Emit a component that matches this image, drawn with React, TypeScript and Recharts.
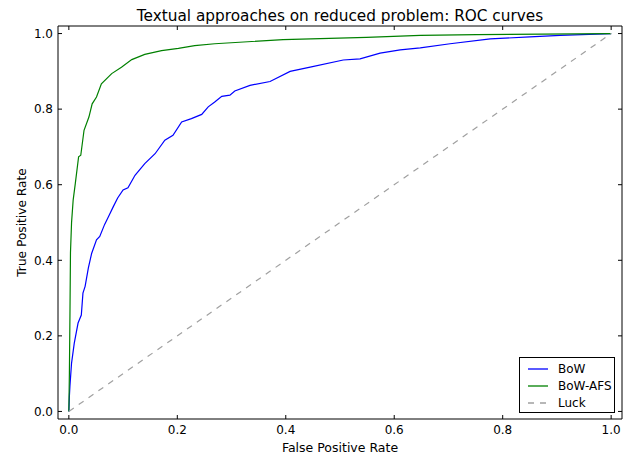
import React from 'react'
import { LineChart, Line, XAxis, YAxis, Legend } from 'recharts'

// ROC points (false positive rate / true positive rate)
const fprBow = [
  0, 0.001, 0.002, 0.005, 0.01, 0.017, 0.023, 0.026, 0.03, 0.036, 0.042, 0.051, 0.057,
  0.066, 0.073, 0.082, 0.09, 0.1, 0.109, 0.122, 0.14, 0.159, 0.177, 0.192, 0.208, 0.226,
  0.245, 0.257, 0.269, 0.282, 0.297, 0.306, 0.334, 0.371, 0.408, 0.445, 0.506, 0.537,
  0.574, 0.611, 0.648, 0.703, 0.777, 0.85, 0.906, 1.0,
]
const tprBow = [
  0, 0.04, 0.067, 0.128, 0.181, 0.234, 0.255, 0.313, 0.331, 0.38, 0.418, 0.454, 0.463,
  0.495, 0.515, 0.542, 0.565, 0.586, 0.592, 0.625, 0.656, 0.682, 0.718, 0.731, 0.766, 0.775,
  0.786, 0.806, 0.819, 0.834, 0.837, 0.848, 0.863, 0.873, 0.9, 0.911, 0.93, 0.933,
  0.948, 0.957, 0.962, 0.973, 0.986, 0.991, 0.995, 1.0,
]

const fprAfs = [
  0, 0.001, 0.002, 0.003, 0.005, 0.008, 0.012, 0.018, 0.022, 0.028, 0.037, 0.043, 0.051,
  0.06, 0.079, 0.097, 0.116, 0.14, 0.171, 0.202, 0.232, 0.269, 0.395, 0.549, 0.648, 0.752, 1.0,
]
const tprAfs = [
  0, 0.1, 0.25, 0.42, 0.5, 0.56, 0.604, 0.674, 0.678, 0.744, 0.779, 0.814, 0.832,
  0.867, 0.894, 0.911, 0.931, 0.945, 0.955, 0.961, 0.968, 0.973, 0.984, 0.99, 0.995, 0.997, 1.0,
]

const fprLuck = [0, 1]
const tprLuck = [0, 1]

const axisTicks = [0, 0.2, 0.4, 0.6, 0.8, 1.0]

const toPoints = (xs: number[], ys: number[]) => xs.map((x, i) => ({ x, y: ys[i] }))

const bowData = toPoints(fprBow, tprBow)
const afsData = toPoints(fprAfs, tprAfs)
const luckData = toPoints(fprLuck, tprLuck)

const FONT = '"DejaVu Sans", sans-serif'
const TICK_LEN = 4
const GAP_X = 6
const GAP_Y = 5
const DOMAIN: [number, number] = [-0.02, 1.02]
const fmt = (v: number) => v.toFixed(1)

// matplotlib-style ticks: pointing into the plot, labels outside
const BottomTick = ({ x, y, payload }: any) => (
  <g>
    <line x1={x} x2={x} y1={y - GAP_X} y2={y - GAP_X - TICK_LEN} stroke="#000" />
    <text x={x} y={y} dy="0.75em" textAnchor="middle" fontFamily={FONT} fontSize={12} fill="#000">
      {fmt(payload.value)}
    </text>
  </g>
)

const LeftTick = ({ x, y, payload }: any) => (
  <g>
    <line x1={x + GAP_Y} x2={x + GAP_Y + TICK_LEN} y1={y} y2={y} stroke="#000" />
    <text x={x} y={y} dy="0.36em" textAnchor="end" fontFamily={FONT} fontSize={12} fill="#000">
      {fmt(payload.value)}
    </text>
  </g>
)

const TopTick = ({ x, y }: any) => (
  <line x1={x} x2={x} y1={y} y2={y + TICK_LEN} stroke="#000" />
)

const RightTick = ({ x, y }: any) => (
  <line x1={x - TICK_LEN} x2={x} y1={y} y2={y} stroke="#000" />
)

const LegendBox = ({ payload }: any) => (
  <div
    style={{
      border: '1px solid #000',
      background: '#fff',
      padding: '2px 0 0 7px',
      fontFamily: FONT,
      fontSize: 12,
      color: '#000',
      boxSizing: 'border-box',
      width: 96,
      height: 56,
      whiteSpace: 'nowrap',
    }}
  >
    {(payload ?? []).map((entry: any) => (
      <div key={entry.value} style={{ display: 'flex', alignItems: 'center', height: 17 }}>
        <svg width={22} height={10} style={{ marginRight: 9, flex: 'none' }}>
          <line
            x1={1}
            x2={21}
            y1={5}
            y2={5}
            stroke={entry.color}
            strokeWidth={1.3}
            strokeDasharray={entry.payload?.strokeDasharray}
          />
        </svg>
        <span>{entry.value}</span>
      </div>
    ))}
  </div>
)

export default function App() {
  return (
    <div style={{ position: 'absolute', left: 0, top: 0, background: '#fff' }}>
      <LineChart width={633} height={459} margin={{ top: 25, right: 10, bottom: 0, left: 0 }}>
        <XAxis
          dataKey="x"
          type="number"
          domain={DOMAIN}
          ticks={axisTicks}
          allowDataOverflow
          height={40}
          stroke="#000"
          tickLine={false}
          tickSize={0}
          tickMargin={GAP_X}
          tick={<BottomTick />}
          label={{
            value: 'False Positive Rate',
            position: 'insideBottom',
            offset: 7,
            style: { fontFamily: FONT, fontSize: 12.5, fill: '#000' },
          }}
        />
        {/* thin top/right axes only draw the frame and inward ticks */}
        <XAxis
          xAxisId="top"
          dataKey="x"
          orientation="top"
          type="number"
          domain={DOMAIN}
          ticks={axisTicks}
          allowDataOverflow
          height={1}
          stroke="#000"
          tickLine={false}
          tickSize={0}
          tickMargin={0}
          tick={<TopTick />}
          label={{
            value: 'Textual approaches on reduced problem: ROC curves',
            position: 'top',
            offset: 4,
            style: { fontFamily: FONT, fontSize: 15.3, fill: '#000' },
          }}
        />
        <YAxis
          dataKey="y"
          type="number"
          domain={DOMAIN}
          ticks={axisTicks}
          allowDataOverflow
          width={58}
          stroke="#000"
          tickLine={false}
          tickSize={0}
          tickMargin={GAP_Y}
          tick={<LeftTick />}
          label={{
            value: 'True Positive Rate',
            angle: -90,
            position: 'insideLeft',
            offset: 22,
            style: { textAnchor: 'middle', fontFamily: FONT, fontSize: 12.2, fill: '#000' },
          }}
        />
        <YAxis
          yAxisId="right"
          dataKey="y"
          orientation="right"
          type="number"
          domain={DOMAIN}
          ticks={axisTicks}
          allowDataOverflow
          width={1}
          stroke="#000"
          tickLine={false}
          tickSize={0}
          tickMargin={0}
          tick={<RightTick />}
        />
        <Legend
          layout="horizontal"
          verticalAlign="middle"
          align="center"
          wrapperStyle={{ position: 'absolute', left: 519, top: 357, width: 96, height: 56 }}
          content={<LegendBox />}
        />
        <Line
          data={bowData}
          dataKey="y"
          name="BoW"
          stroke="#0000ff"
          strokeWidth={1.2}
          dot={false}
          activeDot={false}
          isAnimationActive={false}
        />
        <Line
          data={afsData}
          dataKey="y"
          name="BoW-AFS"
          stroke="#008000"
          strokeWidth={1.2}
          dot={false}
          activeDot={false}
          isAnimationActive={false}
        />
        <Line
          data={luckData}
          xAxisId="top"
          yAxisId="right"
          dataKey="y"
          name="Luck"
          stroke="#a0a0a0"
          strokeWidth={1.2}
          strokeDasharray="6 6"
          dot={false}
          activeDot={false}
          isAnimationActive={false}
        />
      </LineChart>
    </div>
  )
}
